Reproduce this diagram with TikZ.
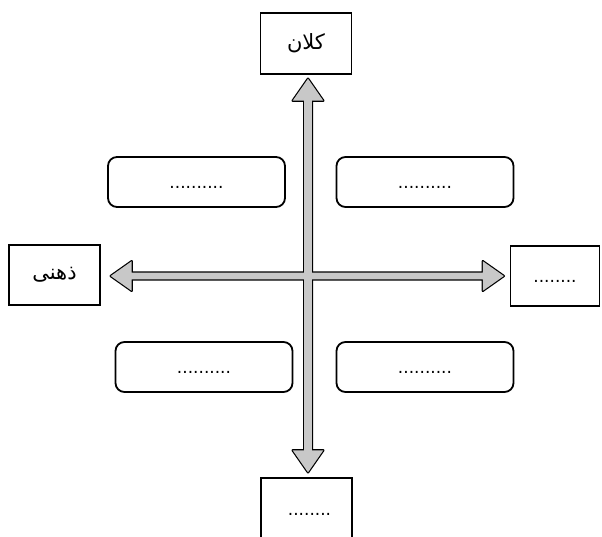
\documentclass[tikz,border=0pt]{standalone}
\usepackage{fontspec}
\setmainfont{DejaVu Sans}
\newfontfamily\arabicfont[Script=Arabic]{DejaVu Sans}
\TeXXeTstate=1
\usetikzlibrary{calc}
\definecolor{axisgray}{RGB}{200,200,200}
\begin{document}
\begin{tikzpicture}[x=1pt,y=-1pt,
  sqbox/.style={draw, line width=1.4pt, minimum width=91pt, minimum height=60pt, inner sep=0pt},
  rbox/.style={draw, line width=1.8pt, rounded corners=9pt, minimum width=177pt, minimum height=50pt, inner sep=0pt},
  dotfont/.style={font=\fontsize{17}{20}\selectfont, text height=15pt, text depth=2pt},
  fa/.style={font=\arabicfont\fontsize{21}{24}\selectfont},
  axisborder/.style={draw=black, line width=2.4pt, line join=round},
  axisfill/.style={fill=axisgray}]
\useasboundingbox (0,0) rectangle (602,536);

% square boxes
\node[sqbox, minimum height=61pt, fa] (kalan) at (306,43.5) {\beginR کلان\endR};
\node[sqbox, fa] (zehni) at (54.5,275) {\beginR ذهنی\endR};
\node[sqbox, minimum width=89pt, dotfont] (right) at (555,276) {........};
\node[sqbox, minimum height=61pt, dotfont] (bottom) at (306.5,508.5) {\hspace{6pt}........};

% rounded boxes
\node[rbox, dotfont] (tl) at (196.5,182) {..........};
\node[rbox, dotfont] (tr) at (425,182) {..........};
\node[rbox, dotfont] (bl) at (204,367) {..........};
\node[rbox, dotfont] (br) at (425,367) {..........};

% axis tips
\coordinate (c) at (308,276);
\coordinate (T) at ($(kalan.south -| c)+(0,4)$);
\coordinate (B) at ($(bottom.north -| c)+(0,-5)$);
\coordinate (Lt) at ($(zehni.east |- c)+(10,0)$);
\coordinate (Rt) at ($(right.west |- c)+(-6,0)$);

% borders
\path[axisborder] (T) -- ++(15.3,22) -- ++(-11.5,0) -- ($(B)+(3.8,-22)$) -- ++(11.5,0) -- (B) -- ++(-15.3,-22) -- ++(11.5,0) -- ($(T)+(-3.8,22)$) -- ++(-11.5,0) -- cycle;
\path[axisborder] (Lt) -- ++(21,-14.8) -- ++(0,11.4) -- ($(Rt)+(-21,-3.4)$) -- ++(0,-11.4) -- (Rt) -- ++(-21,14.8) -- ++(0,-11.4) -- ($(Lt)+(21,3.4)$) -- ++(0,11.4) -- cycle;
% fills
\path[axisfill] (T) -- ++(15.3,22) -- ++(-11.5,0) -- ($(B)+(3.8,-22)$) -- ++(11.5,0) -- (B) -- ++(-15.3,-22) -- ++(11.5,0) -- ($(T)+(-3.8,22)$) -- ++(-11.5,0) -- cycle;
\path[axisfill] (Lt) -- ++(21,-14.8) -- ++(0,11.4) -- ($(Rt)+(-21,-3.4)$) -- ++(0,-11.4) -- (Rt) -- ++(-21,14.8) -- ++(0,-11.4) -- ($(Lt)+(21,3.4)$) -- ++(0,11.4) -- cycle;
\end{tikzpicture}
\end{document}
